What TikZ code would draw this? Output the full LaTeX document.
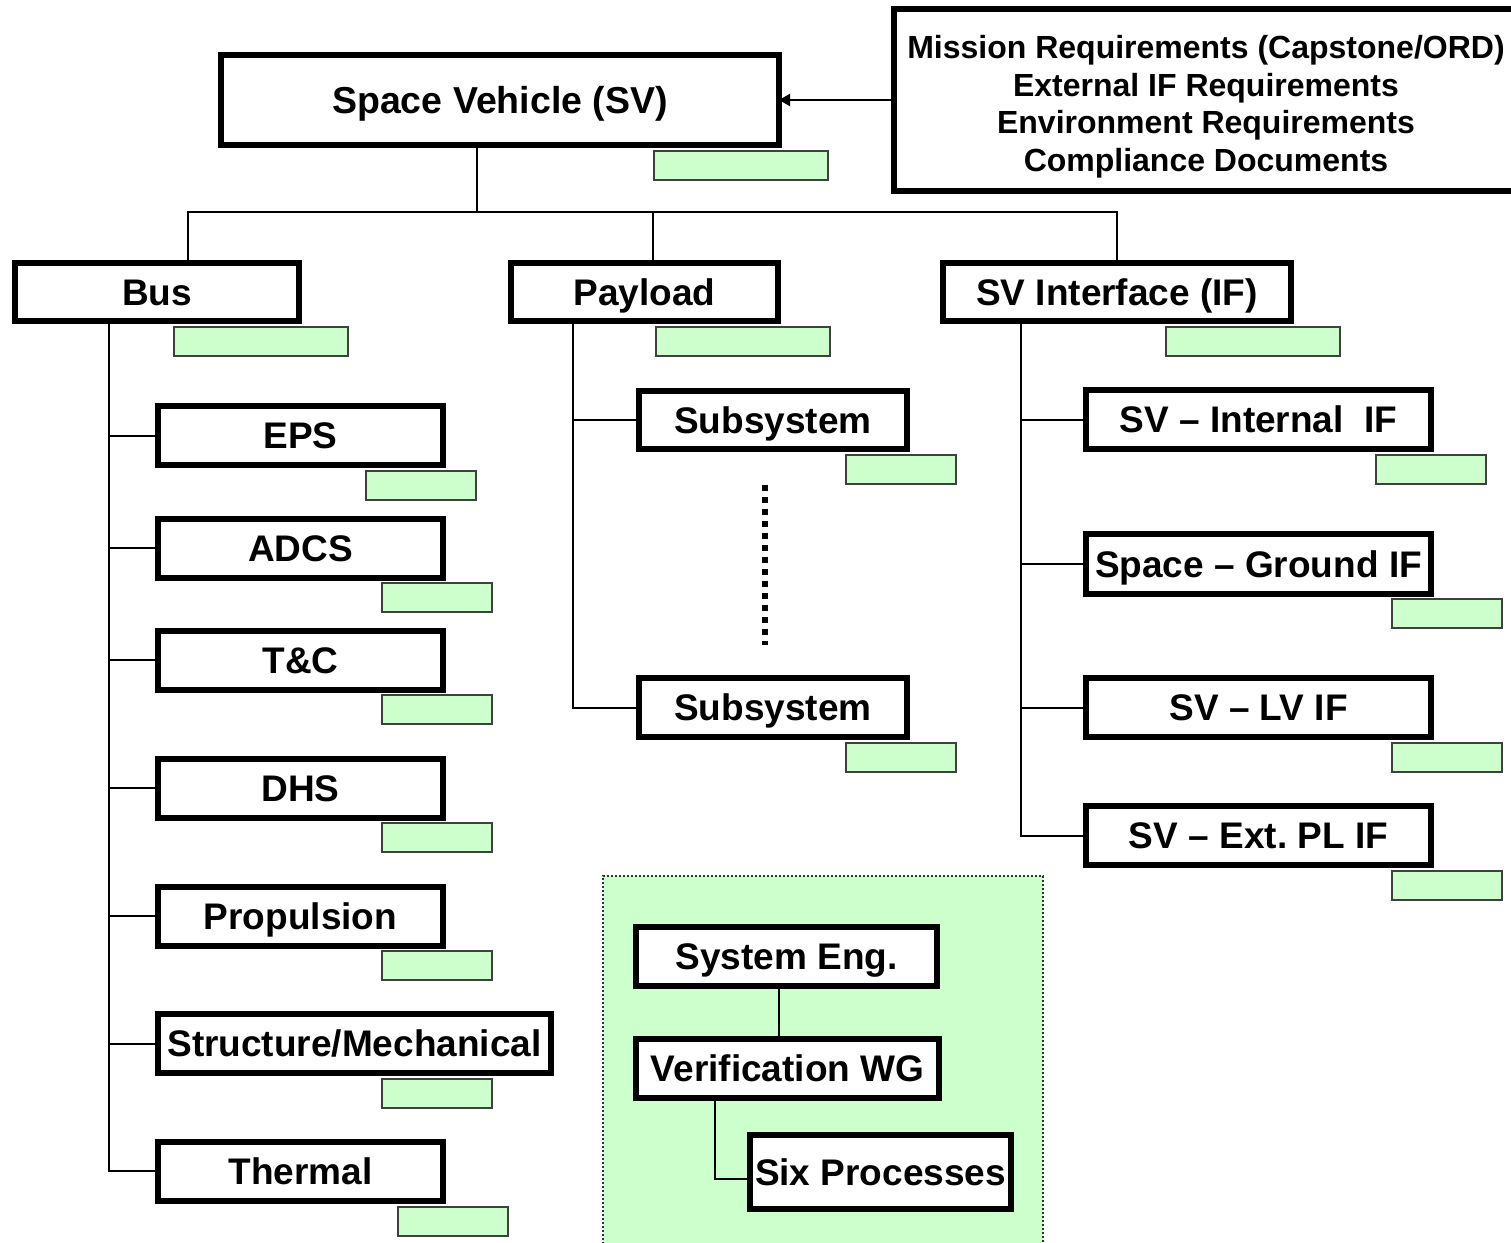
\documentclass[tikz,border=0pt]{standalone}
\usepackage{fontspec}
\setmainfont{Liberation Sans}
\usetikzlibrary{arrows.meta}
\definecolor{lightgreen}{HTML}{CCFFCC}
\newcommand\boxfont{\fontsize{37}{40}\selectfont\bfseries}
\newcommand\svfont{\fontsize{37.5}{40}\selectfont\bfseries}
\newcommand\reqfont{\fontsize{32}{37.7}\selectfont\bfseries}
\frenchspacing
\tikzset{
  mainbox/.style={draw, line width=6pt, fill=white, inner sep=0pt, outer sep=0pt,
    font=\boxfont, text height=26.5pt, text depth=0pt, align=center},
  reqbox/.style={draw, line width=6pt, fill=white, inner sep=0pt, outer sep=0pt,
    font=\reqfont, text depth=0pt, align=center},
  tagbox/.style={draw=black!75, line width=2pt, fill=lightgreen, inner sep=0pt,
    minimum width=110pt, minimum height=29pt},
  widetag/.style={tagbox, minimum width=174pt},
  conn/.style={line width=2pt},
}
\begin{document}
\begin{tikzpicture}[x=1pt,y=-1pt]
\useasboundingbox (0,0) rectangle (1511,1242);

% green working-group area
\fill[lightgreen] (603,876) rectangle (1043,1252);
\draw[line width=2pt, dash pattern=on 2pt off 2pt, black!80]
  (603,1252) -- (603,876) -- (1043,876) -- (1043,1252);

% tag boxes
\node[widetag] (gsv) at (741,165.5) {};
\node[widetag] (gbus) at (261,341) {};
\node[widetag] (gpay) at (743,341) {};
\node[widetag] (gsvif) at (1253,341) {};
\node[tagbox] (geps) at (421,485.5) {};
\node[tagbox] (gadcs) at (437,597.5) {};
\node[tagbox] (gtc) at (437,709.5) {};
\node[tagbox] (gdhs) at (437,837.5) {};
\node[tagbox] (gprop) at (437,965.5) {};
\node[tagbox] (gstruct) at (437,1093.5) {};
\node[tagbox] (gtherm) at (453,1221) {};
\node[tagbox] (gsub1) at (901,469) {};
\node[tagbox] (gsub2) at (901,757.5) {};
\node[tagbox] (gint) at (1431,469.5) {};
\node[tagbox] (ggnd) at (1447,613.5) {};
\node[tagbox] (glv) at (1447,757.5) {};
\node[tagbox] (gext) at (1447,885.5) {};

% junction coordinates
\coordinate (top) at (477,212);
\coordinate (bx) at (188,212);
\coordinate (px) at (653,212);
\coordinate (ix) at (1117,212);
\coordinate (bt) at (109,0);
\coordinate (pt) at (573,0);
\coordinate (it) at (1021,0);
\coordinate (sej) at (779,0);
\coordinate (vj) at (715,0);

% main boxes
\node[mainbox, font=\svfont, text height=27pt, minimum width=558pt, minimum height=90pt] (sv) at (500,100) {Space Vehicle (SV)};
\node[reqbox, minimum width=624pt, minimum height=182pt] (req) at (1206,100)
  {\rule{0pt}{30pt}Mission Requirements (Capstone/ORD)\\External IF Requirements\\Environment Requirements\\Compliance Documents};

\node[mainbox, minimum width=284pt, minimum height=58pt] (bus) at (157,292) {Bus};
\node[mainbox, minimum width=267pt, minimum height=58pt] (payload) at (644.5,292) {Payload};
\node[mainbox, minimum width=348pt, minimum height=58pt] (svif) at (1117,292) {SV Interface (IF)};

\node[mainbox, minimum width=285pt, minimum height=59pt] (eps) at (300.5,435.5) {EPS};
\node[mainbox, minimum width=285pt, minimum height=59pt] (adcs) at (300.5,548) {ADCS};
\node[mainbox, minimum width=285pt, minimum height=59pt] (tc) at (300.5,660) {T\&C};
\node[mainbox, minimum width=285pt, minimum height=59pt] (dhs) at (300.5,788) {DHS};
\node[mainbox, minimum width=285pt, minimum height=59pt] (prop) at (300.5,916) {Propulsion};
\node[mainbox, minimum width=393pt, minimum height=59pt] (struct) at (354.5,1043.5) {Structure/Mechanical};
\node[mainbox, minimum width=285pt, minimum height=59pt] (therm) at (300.5,1171) {Thermal};

\node[mainbox, minimum width=268pt, minimum height=58pt] (sub1) at (773,420) {Subsystem};
\node[mainbox, minimum width=268pt, minimum height=59pt] (sub2) at (773,707.5) {Subsystem};

\node[mainbox, minimum width=345pt, minimum height=59pt] (int) at (1258.5,419.5) {SV – Internal\ \ IF};
\node[mainbox, minimum width=345pt, minimum height=60pt] (gnd) at (1258.5,564) {Space – Ground IF};
\node[mainbox, minimum width=345pt, minimum height=59pt] (lv) at (1258.5,707.5) {SV – LV IF};
\node[mainbox, minimum width=345pt, minimum height=59pt] (ext) at (1258.5,835.5) {SV – Ext. PL IF};

\node[mainbox, minimum width=301pt, minimum height=59pt] (se) at (786.5,956.5) {System Eng.};
\node[mainbox, minimum width=303pt, minimum height=59pt] (vwg) at (787.5,1068.5) {Verification WG};
\node[mainbox, minimum width=261pt, minimum height=74pt] (six) at (880.5,1172) {Six Processes};

% connectors
\draw[conn] (sv.south -| top) -- (top);
\draw[conn] (bus.north -| bx) |- (ix) -- (svif.north);
\draw[conn] (px) -- (payload.north -| px);

\draw[conn] (bus.south -| bt) |- (therm.west);
\foreach \c in {eps,adcs,tc,dhs,prop,struct}{
  \draw[conn] (\c.west -| bt) -- (\c.west);
}
\draw[conn] (payload.south -| pt) |- (sub2.west);
\draw[conn] (sub1.west -| pt) -- (sub1.west);

\draw[conn] (svif.south -| it) |- (ext.west);
\foreach \c in {int,gnd,lv}{
  \draw[conn] (\c.west -| it) -- (\c.west);
}

\draw[conn] (se.south -| sej) -- (vwg.north -| sej);
\draw[conn] (vwg.south -| vj) |- ([yshift=-7pt]six.west);

\draw[conn, -{Triangle[length=11pt, width=12pt]}] (req.west) -- (sv.east);

% continuation dots between subsystems
\draw[line width=6pt, dash pattern=on 6pt off 6pt] (765,485) -- (765,645);
\end{tikzpicture}
\end{document}
